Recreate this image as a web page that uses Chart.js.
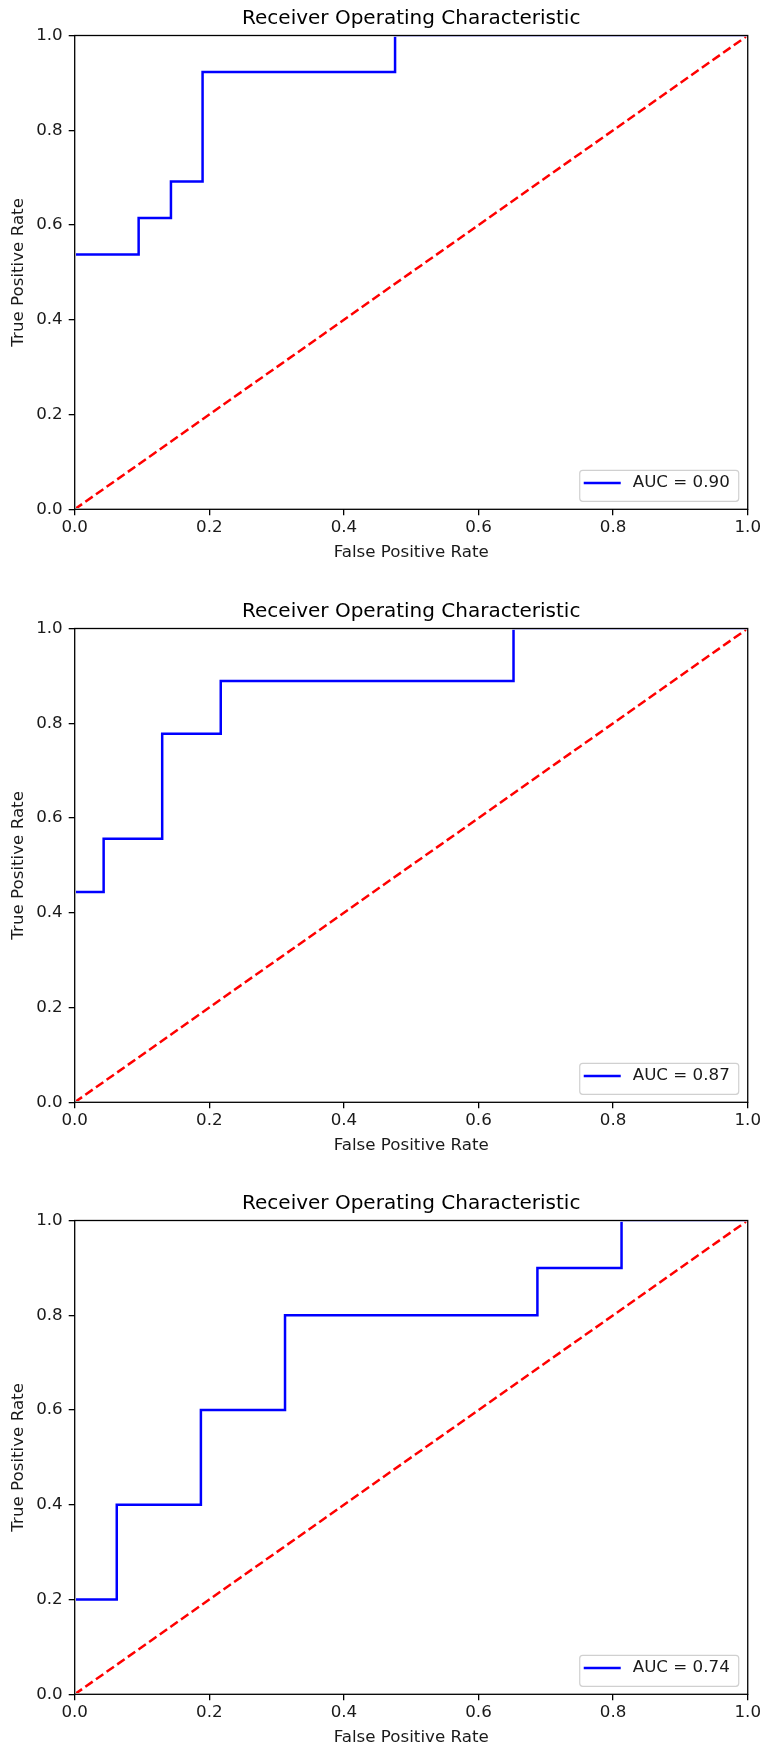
<!DOCTYPE html>
<html>
<head>
<meta charset="utf-8">
<title>Receiver Operating Characteristic</title>
<script src="https://cdn.jsdelivr.net/npm/chart.js@4.4.0/dist/chart.umd.min.js"></script>
<style>
  html, body { margin: 0; padding: 0; background: #fff; overflow: hidden; }
  .plot { position: absolute; left: 0; width: 763px; height: 566px; }
</style>
</head>
<body>
<div class="plot" style="top:0px"><canvas id="roc1" width="763" height="566"></canvas></div>
<div class="plot" style="top:593px"><canvas id="roc2" width="763" height="566"></canvas></div>
<div class="plot" style="top:1185px"><canvas id="roc3" width="763" height="566"></canvas></div>
<script>
// roc points (false positive rate / true positive rate)
const fpr1 = [0, 0, 0.095, 0.095, 0.143, 0.143, 0.190, 0.190, 0.476, 0.476, 1];
const tpr1 = [0, 0.538, 0.538, 0.615, 0.615, 0.692, 0.692, 0.923, 0.923, 1, 1];

const fpr2 = [0, 0, 0.043, 0.043, 0.130, 0.130, 0.217, 0.217, 0.652, 0.652, 1];
const tpr2 = [0, 0.444, 0.444, 0.556, 0.556, 0.778, 0.778, 0.889, 0.889, 1, 1];

const fpr3 = [0, 0, 0.0625, 0.0625, 0.1875, 0.1875, 0.3125, 0.3125, 0.6875, 0.6875, 0.8125, 0.8125, 1];
const tpr3 = [0, 0.2, 0.2, 0.4, 0.4, 0.6, 0.6, 0.8, 0.8, 0.9, 0.9, 1, 1];

const aucValues = ["0.90", "0.87", "0.74"];

// the dashed chance line
const chanceX = [0, 1];
const chanceY = [0, 1];

const tickValues = [0, 0.2, 0.4, 0.6, 0.8, 1.0];

Chart.defaults.font.family = "'DejaVu Sans', sans-serif";
Chart.defaults.color = "#1a1a1a";

function toPoints(xs, ys) {
    return xs.map(function(x, i) { return { x: x, y: ys[i] }; });
}

// black box round the plot, drawn on top of the lines like matplotlib spines
const framePlugin = {
    id: "frame",
    afterDatasetsDraw(chart) {
        const a = chart.chartArea;
        const ctx = chart.ctx;
        ctx.save();
        ctx.strokeStyle = "#000";
        ctx.lineWidth = 1.3;
        ctx.strokeRect(a.left, a.top, a.right - a.left, a.bottom - a.top);
        ctx.restore();
    }
};

// legend box in the lower right corner
const aucLegend = {
    id: "aucLegend",
    afterDraw(chart) {
        const ds = chart.data.datasets[1];
        const a = chart.chartArea;
        const ctx = chart.ctx;
        const w = 159, h = 31;
        const left = a.right - 9 - w;
        const top = a.bottom - 8 - h;
        ctx.save();
        ctx.beginPath();
        ctx.roundRect(left, top, w, h, 3);
        ctx.fillStyle = "rgba(255,255,255,0.8)";
        ctx.fill();
        ctx.strokeStyle = "#d0d0d0";
        ctx.lineWidth = 1.2;
        ctx.stroke();

        const midY = top + 12.8;
        ctx.beginPath();
        ctx.moveTo(left + 4, midY);
        ctx.lineTo(left + 41, midY);
        ctx.strokeStyle = ds.borderColor;
        ctx.lineWidth = 2.5;
        ctx.stroke();

        ctx.fillStyle = "#1a1a1a";
        ctx.font = "16.7px 'DejaVu Sans'";
        ctx.textAlign = "left";
        ctx.textBaseline = "middle";
        ctx.fillText(ds.label, left + 53, midY);
        ctx.restore();
    }
};

function axisOptions(titleText, isX) {
    return {
        type: "linear",
        min: 0,
        max: 1,
        afterBuildTicks: function(scale) {
            scale.ticks = tickValues.map(function(v) { return { value: v }; });
        },
        afterFit: function(scale) {
            if (isX) {
                scale.height = 56.7;
            } else {
                scale.width = 74.7;
            }
        },
        ticks: {
            font: { size: 16.7 },
            padding: isX ? 2 : 6,
            maxRotation: 0,
            autoSkip: false,
            callback: function(v) { return Number(v).toFixed(1); }
        },
        grid: {
            drawOnChartArea: false,
            tickLength: 6,
            color: "#000",
            lineWidth: 1.3
        },
        border: { display: false },
        title: {
            display: true,
            text: titleText,
            font: { size: 16.7 },
            padding: isX ? { top: 0, bottom: 3 } : { top: 8.3, bottom: 0 }
        }
    };
}

function drawRoc(canvasId, fpr, tpr, auc) {
    new Chart(document.getElementById(canvasId), {
        type: "scatter",
        data: {
            datasets: [
                {
                    label: "chance",
                    data: toPoints(chanceX, chanceY),
                    showLine: true,
                    borderColor: "#ff0000",
                    borderWidth: 2.5,
                    borderDash: [9, 4],
                    pointRadius: 0,
                    clip: -1.3
                },
                {
                    label: "AUC = " + auc,
                    data: toPoints(fpr, tpr),
                    showLine: true,
                    borderColor: "#0000ff",
                    borderWidth: 2.5,
                    pointRadius: 0,
                    tension: 0,
                    // keep the parts running along the axes hidden under the frame
                    clip: -1.3
                }
            ]
        },
        options: {
            responsive: false,
            animation: false,
            layout: { padding: { left: 0, right: 14, top: 0, bottom: 0 } },
            plugins: {
                legend: { display: false },
                tooltip: { enabled: false },
                title: {
                    display: true,
                    fullSize: false,
                    text: "Receiver Operating Characteristic",
                    color: "#000",
                    font: { size: 20, weight: "normal", lineHeight: 1.2 },
                    padding: { top: 7, bottom: 4.5 }
                }
            },
            scales: {
                x: axisOptions("False Positive Rate", true),
                y: axisOptions("True Positive Rate", false)
            }
        },
        plugins: [framePlugin, aucLegend]
    });
}

drawRoc("roc1", fpr1, tpr1, aucValues[0]);
drawRoc("roc2", fpr2, tpr2, aucValues[1]);
drawRoc("roc3", fpr3, tpr3, aucValues[2]);
</script>
</body>
</html>
